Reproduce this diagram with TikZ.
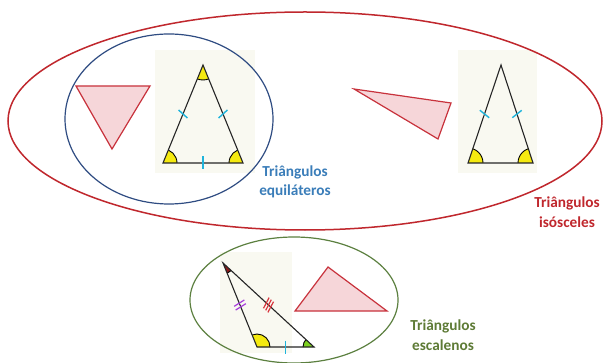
\documentclass[tikz,border=0pt]{standalone}
\usepackage{fontspec}
\setmainfont{Carlito}
\usetikzlibrary{calc}
\definecolor{isored}{HTML}{C0272D}
\definecolor{equiblue}{HTML}{2F4C82}
\definecolor{equitext}{HTML}{3A7DB9}
\definecolor{escgreen}{HTML}{5C8040}
\definecolor{esctext}{HTML}{5E7B36}
\definecolor{trired}{HTML}{C8323C}
\definecolor{trifill}{HTML}{F6D6D9}
\definecolor{panelc}{HTML}{F9F9F1}
\definecolor{tickcyan}{HTML}{1FB4DC}
\definecolor{tickpurple}{HTML}{A63DDB}
\definecolor{tickred}{HTML}{D8343C}
\definecolor{angyellow}{HTML}{F5EA10}
\definecolor{angdark}{HTML}{8B1A1A}
\definecolor{anggreen}{HTML}{7DD020}
\newcommand\angmark[5]{%
  \begin{scope}
    \clip (#1)--(#2)--(#3)--cycle;
    \fill[#5] (#1) circle (#4);
    \draw[black, line width=0.9pt] (#1) circle (#4);
  \end{scope}}
% mid point, towards point, rotation, style
\newcommand\sidetick[4]{%
  \draw[#4] ($(#1)!6pt!#3:(#2)$) -- ($(#1)!-6pt!#3:(#2)$);}
\begin{document}
\begin{tikzpicture}[x=1pt,y=-1pt,
  panel/.style={fill=panelc, draw=none},
  tri/.style={draw=trired, fill=trifill, line width=1.2pt, line join=miter},
  geo/.style={draw=black!85, line width=1.1pt, line join=miter},
  tk/.style={draw=tickcyan, line width=1.4pt},
  lbl/.style={font=\bfseries\fontsize{15.3}{19.5}\selectfont, align=center, inner sep=0pt}]
\useasboundingbox (0,0) rectangle (604,363);
\fill[white] (0,0) rectangle (604,363);
% panels
\fill[panel] (155,50) rectangle (255,173);
\fill[panel] (458,50) rectangle (537,173);
\fill[panel] (220,252) rectangle (292,353);
% set ellipses
\draw[isored, line width=1.5pt] (305,121) ellipse [x radius=297, y radius=109];
\draw[equiblue, line width=1.2pt] (169,119) ellipse [x radius=104, y radius=85];
\draw[escgreen, line width=1.2pt] (294,300) ellipse [x radius=104, y radius=63];
% red triangles
\draw[tri] (76,86) -- (150,86) -- (112,149) -- cycle;
\draw[tri] (354,89) -- (451,103) -- (438,139) -- cycle;
\draw[tri] (328,267) -- (295,311) -- (387,311) -- cycle;
% equilateral
\coordinate (E1) at (203,65);
\coordinate (E2) at (163,163);
\coordinate (E3) at (243,163);
\angmark{E1}{E2}{E3}{15}{angyellow}
\angmark{E2}{E3}{E1}{14}{angyellow}
\angmark{E3}{E1}{E2}{14}{angyellow}
\draw[geo] (E1) -- (E2) -- (E3) -- cycle;
\coordinate (e12) at ($(E1)!0.5!(E2)$);
\coordinate (e13) at ($(E1)!0.5!(E3)$);
\coordinate (e23) at ($(E2)!0.5!(E3)$);
\sidetick{e12}{E2}{70}{tk}
\sidetick{e13}{E3}{-70}{tk}
\draw[tk] ($(e23)+(0,-6.5)$) -- ($(e23)+(0,6.5)$);
% isosceles
\coordinate (I1) at (501,65);
\coordinate (I2) at (468,163);
\coordinate (I3) at (533,163);
\angmark{I2}{I3}{I1}{15}{angyellow}
\angmark{I3}{I1}{I2}{15}{angyellow}
\draw[geo] (I1) -- (I2) -- (I3) -- cycle;
\coordinate (i12) at ($(I1)!0.5!(I2)$);
\coordinate (i13) at ($(I1)!0.5!(I3)$);
\sidetick{i12}{I2}{70}{tk}
\sidetick{i13}{I3}{-70}{tk}
% scalene
\coordinate (S1) at (223,263);
\coordinate (S2) at (257,347);
\coordinate (S3) at (314,347);
\angmark{S1}{S2}{S3}{11}{angdark}
\angmark{S2}{S3}{S1}{13}{angyellow}
\angmark{S3}{S1}{S2}{11}{anggreen}
\draw[geo] (S1) -- (S2) -- (S3) -- cycle;
\coordinate (s12) at ($(S1)!0.5!(S2)$);
\coordinate (s13) at ($(S1)!0.5!(S3)$);
\coordinate (s23) at ($(S2)!0.5!(S3)$);
\coordinate (s12a) at ($(s12)!2pt!(S1)$);
\coordinate (s12b) at ($(s12)!2pt!(S2)$);
\sidetick{s12a}{S2}{-80}{draw=tickpurple, line width=1.2pt}
\sidetick{s12b}{S2}{-80}{draw=tickpurple, line width=1.2pt}
\coordinate (s13a) at ($(s13)!3pt!(S1)$);
\coordinate (s13b) at ($(s13)!3pt!(S3)$);
\sidetick{s13a}{S3}{-75}{draw=tickred, line width=1.2pt}
\sidetick{s13}{S3}{-75}{draw=tickred, line width=1.2pt}
\sidetick{s13b}{S3}{-75}{draw=tickred, line width=1.2pt}
\draw[tk] ($(s23)+(0,-6.5)$) -- ($(s23)+(0,6.5)$);
% labels
\node[lbl, text=equitext] (equi) at (295,182) {Triângulos\\equiláteros};
\node[lbl, text=isored] (iso) at (567,212) {Triângulos\\isósceles};
\node[lbl, text=esctext] (esc) at (443,335) {Triângulos\\escalenos};
\end{tikzpicture}
\end{document}
